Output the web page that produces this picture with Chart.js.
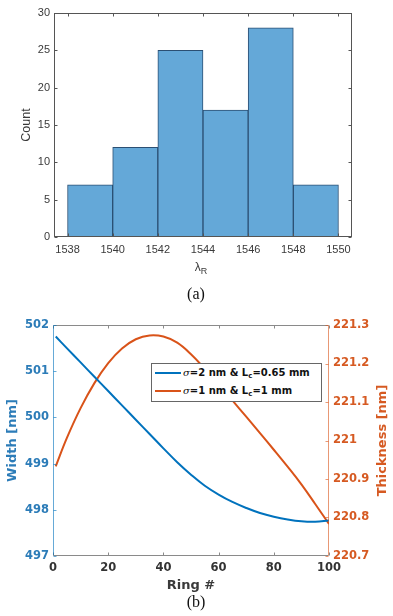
<!DOCTYPE html>
<html><head><meta charset="utf-8">
<script src="https://cdn.jsdelivr.net/npm/chart.js@4.4.0/dist/chart.umd.min.js"></script>
<style>
html,body{margin:0;padding:0;background:#fff;}
body{width:393px;height:616px;overflow:hidden;position:relative;}
canvas{position:absolute;left:0;}
#cA{top:0;}
#cB{top:300px;}
.cap{position:absolute;font-family:"Liberation Serif","Times New Roman",serif;font-size:16px;color:#111;transform:translate(-50%,-50%);white-space:nowrap;}
#xlabA{position:absolute;font-family:"Liberation Sans",Arial,sans-serif;font-size:12px;color:#3a3a3a;transform:translate(-50%,-50%);white-space:nowrap;}
#xlabA sub{font-size:9px;vertical-align:-3px;}
#legend{position:absolute;left:151px;top:363px;width:171px;height:39px;border:1px solid #666;background:#fff;box-sizing:border-box;font-family:"DejaVu Sans",sans-serif;font-weight:bold;font-size:10px;color:#111;}
.row{position:absolute;left:0;height:14px;width:100%;}
.smp{position:absolute;left:3px;top:6px;width:26px;height:2px;}
.txt{position:absolute;left:31px;top:0;line-height:14px;white-space:nowrap;}
.txt i{font-family:"DejaVu Serif",serif;font-style:italic;font-weight:normal;}
.txt sub{font-size:7px;vertical-align:-2px;}
</style>
</head><body>
<canvas id="cA" width="393" height="280"></canvas>
<canvas id="cB" width="393" height="295"></canvas>
<div id="xlabA" style="left:201px;top:268px;">λ<sub>R</sub></div>
<div class="cap" style="left:196px;top:294px;">(a)</div>
<div class="cap" style="left:196px;top:602px;">(b)</div>
<div id="legend"></div>
<script>
// ---- (a) histogram data ----
const binCenters = [1539, 1541, 1543, 1545, 1547, 1549];
const counts = [7, 12, 25, 17, 28, 7];
const xTicksA = [1538, 1540, 1542, 1544, 1546, 1548, 1550];
const yTicksA = [0, 5, 10, 15, 20, 25, 30];

// ---- (b) line chart data ----
const rings = [1, 5, 10, 15, 20, 25, 30, 35, 40, 45, 50, 55, 60, 65, 70, 75, 80, 85, 90, 95, 100];
const widthNm = [501.75, 501.50, 501.19, 500.88, 500.57, 500.26, 499.95, 499.64, 499.33, 499.03, 498.76, 498.52, 498.33, 498.17, 498.04, 497.93, 497.85, 497.79, 497.75, 497.74, 497.77];
const thickNm = [220.933, 221.006, 221.084, 221.149, 221.201, 221.239, 221.263, 221.273, 221.270, 221.254, 221.224, 221.186, 221.146, 221.104, 221.062, 221.019, 220.976, 220.932, 220.886, 220.835, 220.783];
const xTicksB = [0, 20, 40, 60, 80, 100];
const widthTicks = [497, 498, 499, 500, 501, 502];
const thickTicks = [220.7, 220.8, 220.9, 221.0, 221.1, 221.2, 221.3];
const thickTickLabels = ['220.7', '220.8', '220.9', '221', '221.1', '221.2', '221.3'];
const thickTitle = 'Thickness [nm]';
const seriesLabels = [
  ['σ', '=2 nm & L', 'c', '=0.65 mm'],
  ['σ', '=1 nm & L', 'c', '=1 mm']
];
const blue = '#0072BD', orange = '#D95319';
const blueTxt = '#2c7cb8', orangeTxt = '#d65a22';

function setTicks(vals){ return (s) => { s.ticks = vals.map(v => ({value: v})); }; }

// ---------- Chart (a) ----------
const boxA = {
  id: 'boxA',
  afterDraw(chart){
    const {ctx, chartArea: a, scales} = chart;
    const L = Math.round(a.left) + 0.5, R = Math.round(a.right) - 0.5, T = Math.round(a.top) + 0.5, B = Math.round(a.bottom) - 0.5;
    ctx.save();
    ctx.strokeStyle = '#555';
    ctx.lineWidth = 1;
    ctx.strokeRect(L, T, R - L, B - T);
    ctx.beginPath();
    const tl = 3;
    xTicksA.forEach(v => {
      const p = Math.round(scales.x.getPixelForValue(v)) + 0.5;
      ctx.moveTo(p, B); ctx.lineTo(p, B - tl);
      ctx.moveTo(p, T); ctx.lineTo(p, T + tl);
    });
    yTicksA.forEach(v => {
      const p = Math.round(scales.y.getPixelForValue(v)) + 0.5;
      ctx.moveTo(L, p); ctx.lineTo(L + tl, p);
      ctx.moveTo(R, p); ctx.lineTo(R - tl, p);
    });
    ctx.stroke();
    ctx.restore();
  }
};

new Chart(document.getElementById('cA'), {
  type: 'bar',
  data: {
    datasets: [{
      data: binCenters.map((c, i) => ({x: c, y: counts[i]})),
      backgroundColor: '#64a8d8',
      borderColor: '#2b4f73',
      borderWidth: 1,
      borderSkipped: false,
      barPercentage: 1,
      categoryPercentage: 1
    }]
  },
  options: {
    responsive: false,
    animation: false,
    events: [],
    layout: {padding: {top: 13, right: 41, left: 0, bottom: 0}},
    plugins: {legend: {display: false}, tooltip: {enabled: false}},
    scales: {
      x: {
        type: 'linear', offset: false, min: 1537.4, max: 1550.6,
        afterBuildTicks: setTicks(xTicksA),
        afterFit: s => { s.height = 43; },
        grid: {display: false, drawTicks: false, offset: false},
        border: {display: false},
        ticks: {color: '#3a3a3a', padding: 6, font: {family: 'Liberation Sans', size: 11}, maxRotation: 0, autoSkip: false,
          callback: (v, i) => String(xTicksA[i])}
      },
      y: {
        min: 0, max: 30,
        afterBuildTicks: setTicks(yTicksA),
        afterFit: s => { s.width = 54; },
        grid: {display: false, drawTicks: false},
        border: {display: false},
        ticks: {color: '#3a3a3a', padding: 4, font: {family: 'Liberation Sans', size: 11},
          callback: (v, i) => String(yTicksA[i])},
        title: {display: true, text: 'Count', color: '#3a3a3a', font: {family: 'Liberation Sans', size: 12.5}, padding: {top: 19, bottom: 0}}
      }
    }
  },
  plugins: [boxA]
});

// ---------- Chart (b) ----------
const boxB = {
  id: 'boxB',
  afterDraw(chart){
    const {ctx, chartArea: a, scales} = chart;
    const L = Math.round(a.left) + 0.5, R = Math.round(a.right) - 0.5, T = Math.round(a.top) + 0.5, B = Math.round(a.bottom) - 0.5;
    const tl = 3;
    ctx.save();
    ctx.lineWidth = 1;
    ctx.strokeStyle = '#8a8a8a';
    ctx.beginPath();
    ctx.moveTo(L, T); ctx.lineTo(R, T);
    ctx.moveTo(L, B); ctx.lineTo(R, B);
    xTicksB.forEach(v => {
      const p = Math.round(scales.x.getPixelForValue(v)) + 0.5;
      ctx.moveTo(p, B); ctx.lineTo(p, B - tl);
      ctx.moveTo(p, T); ctx.lineTo(p, T + tl);
    });
    ctx.stroke();
    ctx.strokeStyle = 'rgba(0,114,189,0.6)';
    ctx.beginPath();
    ctx.moveTo(L, T); ctx.lineTo(L, B);
    widthTicks.forEach(v => {
      const p = Math.round(scales.y.getPixelForValue(v)) + 0.5;
      ctx.moveTo(L, p); ctx.lineTo(L + tl, p);
    });
    ctx.stroke();
    ctx.strokeStyle = 'rgba(217,83,25,0.6)';
    ctx.beginPath();
    ctx.moveTo(R, T); ctx.lineTo(R, B);
    thickTicks.forEach(v => {
      const p = Math.round(scales.y2.getPixelForValue(v)) + 0.5;
      ctx.moveTo(R, p); ctx.lineTo(R - tl, p);
    });
    ctx.stroke();
    // right axis title, reading bottom-to-top like the MATLAB original
    ctx.translate(383, (a.top + a.bottom) / 2);
    ctx.rotate(-Math.PI / 2);
    ctx.fillStyle = orangeTxt;
    ctx.font = 'bold 13px "DejaVu Sans"';
    ctx.textAlign = 'center';
    ctx.textBaseline = 'middle';
    ctx.fillText(thickTitle, 0, 0);
    ctx.restore();
  }
};

const boldTick = {family: 'DejaVu Sans', size: 11.5, weight: 'bold'};
const boldTitle = {family: 'DejaVu Sans', size: 13, weight: 'bold'};

new Chart(document.getElementById('cB'), {
  type: 'line',
  data: {
    datasets: [
      {label: seriesLabels[0].join(''), data: rings.map((r, i) => ({x: r, y: widthNm[i]})), yAxisID: 'y',
        borderColor: blue, borderWidth: 2, pointRadius: 0, tension: 0.4, fill: false},
      {label: seriesLabels[1].join(''), data: rings.map((r, i) => ({x: r, y: thickNm[i]})), yAxisID: 'y2',
        borderColor: orange, borderWidth: 2, pointRadius: 0, tension: 0.4, fill: false}
    ]
  },
  options: {
    responsive: false,
    animation: false,
    events: [],
    layout: {padding: {top: 25, right: 0, left: 0, bottom: 0}},
    plugins: {legend: {display: false}, tooltip: {enabled: false}},
    scales: {
      x: {
        type: 'linear', min: 0, max: 100,
        afterBuildTicks: setTicks(xTicksB),
        afterFit: s => { s.height = 39; },
        grid: {display: false, drawTicks: false},
        border: {display: false},
        ticks: {color: '#333', padding: 5, font: boldTick, maxRotation: 0, autoSkip: false,
          callback: (v, i) => String(xTicksB[i])},
        title: {display: true, text: 'Ring #', color: '#3a3a3a', font: boldTitle, padding: {top: 0, bottom: 2}}
      },
      y: {
        position: 'left', min: 497, max: 502,
        afterBuildTicks: setTicks(widthTicks),
        afterFit: s => { s.width = 53; },
        grid: {display: false, drawTicks: false},
        border: {display: false},
        ticks: {color: blueTxt, padding: 4, font: boldTick, callback: (v, i) => String(widthTicks[i])},
        title: {display: true, text: 'Width [nm]', color: blueTxt, font: boldTitle, padding: {top: 5, bottom: 0}}
      },
      y2: {
        position: 'right', min: 220.7, max: 221.3,
        afterBuildTicks: setTicks(thickTicks),
        afterFit: s => { s.width = 64; },
        grid: {display: false, drawTicks: false},
        border: {display: false},
        ticks: {color: orangeTxt, padding: 4, font: boldTick, callback: (v, i) => thickTickLabels[i]}
      }
    }
  },
  plugins: [boxB]
});

// ---------- HTML legend (needs subscript) ----------
const leg = document.getElementById('legend');
const colors = [blue, orange];
const rowTops = [2, 20];
seriesLabels.forEach((parts, i) => {
  const row = document.createElement('div');
  row.className = 'row';
  row.style.top = rowTops[i] + 'px';
  const s = document.createElement('div');
  s.className = 'smp'; s.style.background = colors[i];
  const t = document.createElement('div');
  t.className = 'txt';
  const it = document.createElement('i'); it.textContent = parts[0];
  const sub = document.createElement('sub'); sub.textContent = parts[2];
  t.appendChild(it);
  t.appendChild(document.createTextNode(parts[1]));
  t.appendChild(sub);
  t.appendChild(document.createTextNode(parts[3]));
  row.appendChild(s); row.appendChild(t);
  leg.appendChild(row);
});
</script>
</body></html>
